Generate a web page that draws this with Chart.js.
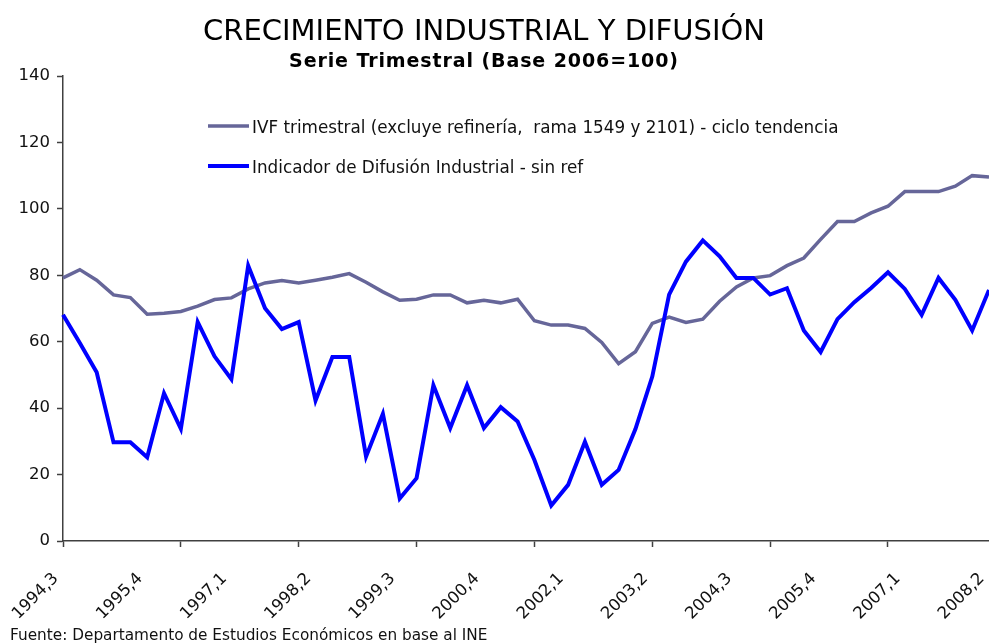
<!DOCTYPE html>
<html>
<head>
<meta charset="utf-8">
<script src="https://cdn.jsdelivr.net/npm/chart.js@4.4.1/dist/chart.umd.min.js"></script>
<style>
  html, body { margin: 0; padding: 0; background: #fff; }
  #wrap { position: relative; width: 989px; height: 644px; overflow: hidden; }
  #chart { position: absolute; left: 0; top: 0; }
  .txt { position: absolute; font-family: "DejaVu Sans", sans-serif; color: #000; white-space: pre; line-height: 1; }
  #title { left: 0; width: 968px; top: 15.5px; text-align: center; font-size: 29px; }
  #subtitle { left: 0; width: 968px; top: 51px; text-align: center; font-size: 19px; font-weight: bold; letter-spacing: 0.9px; }
  #footer { left: 10px; top: 628px; font-size: 15.3px; color: #111; }
</style>
</head>
<body>
<div id="wrap">
  <canvas id="chart" width="989" height="644"></canvas>
  <div class="txt" id="title">CRECIMIENTO INDUSTRIAL Y DIFUSIÓN</div>
  <div class="txt" id="subtitle">Serie Trimestral (Base 2006=100)</div>
  <div class="txt" id="footer">Fuente: Departamento de Estudios Económicos en base al INE</div>
</div>
<script>
// Quarters (year,quarter) 1994,3 ... 2008,2
const quarters = [
  "1994,3","1994,4",
  "1995,1","1995,2","1995,3","1995,4",
  "1996,1","1996,2","1996,3","1996,4",
  "1997,1","1997,2","1997,3","1997,4",
  "1998,1","1998,2","1998,3","1998,4",
  "1999,1","1999,2","1999,3","1999,4",
  "2000,1","2000,2","2000,3","2000,4",
  "2001,1","2001,2","2001,3","2001,4",
  "2002,1","2002,2","2002,3","2002,4",
  "2003,1","2003,2","2003,3","2003,4",
  "2004,1","2004,2","2004,3","2004,4",
  "2005,1","2005,2","2005,3","2005,4",
  "2006,1","2006,2","2006,3","2006,4",
  "2007,1","2007,2","2007,3","2007,4",
  "2008,1","2008,2"
];

// IVF trimestral (ciclo tendencia)
const ivfTrend = [
  79.2, 81.7, 78.5, 74.1, 73.3, 68.3, 68.6, 69.1, 70.7, 72.7,
  73.2, 75.9, 77.7, 78.4, 77.7, 78.5, 79.4, 80.5, 77.9, 75.0,
  72.5, 72.8, 74.1, 74.1, 71.7, 72.5, 71.7, 72.8, 66.3, 65.0,
  65.0, 64.0, 59.8, 53.4, 57.0, 65.5, 67.4, 65.8, 66.8, 72.2,
  76.5, 79.2, 79.9, 82.9, 85.2, 90.8, 96.2, 96.2, 98.8, 100.8,
  105.2, 105.2, 105.2, 106.8, 110.0, 109.6
];

// Indicador de Difusión Industrial - sin ref
const diffusion = [
  68.1, 59.6, 50.8, 29.7, 29.7, 25.2, 44.5, 33.8, 65.9, 55.6,
  48.7, 82.9, 70.1, 63.8, 65.9, 42.3, 55.4, 55.4, 25.4, 38.3,
  12.8, 18.9, 46.9, 34.0, 46.9, 34.0, 40.3, 36.0, 24.4, 10.7,
  16.9, 29.9, 16.9, 21.4, 33.7, 49.5, 74.2, 84.1, 90.5, 85.7,
  79.2, 79.2, 74.2, 76.1, 63.4, 56.9, 66.8, 71.9, 76.2, 80.9,
  75.9, 68.1, 79.2, 72.6, 63.4, 75.6
];

const seriesLabels = [
  "IVF trimestral (excluye refinería,  rama 1549 y 2101) - ciclo tendencia",
  "Indicador de Difusión Industrial - sin ref"
];
const yTicks = [0, 20, 40, 60, 80, 100, 120, 140];
const labelEvery = 5;   // x labels every 5 quarters
const tickEvery = 7;    // x tick marks every 7 quarters

const AXIS = '#404040';

const insideLegend = {
  id: 'insideLegend',
  afterDatasetsDraw(chart) {
    const ctx = chart.ctx;
    const rows = [126, 166];
    ctx.save();
    chart.data.datasets.forEach((ds, i) => {
      const y = rows[i];
      ctx.strokeStyle = ds.borderColor;
      ctx.lineWidth = ds.borderWidth;
      ctx.beginPath();
      ctx.moveTo(208, y);
      ctx.lineTo(249, y);
      ctx.stroke();
      ctx.fillStyle = '#111';
      ctx.font = '16.8px "DejaVu Sans"';
      ctx.textBaseline = 'alphabetic';
      ctx.textAlign = 'left';
      ctx.fillText(ds.label, 252, y + 7);
    });
    ctx.restore();
  }
};

new Chart(document.getElementById('chart'), {
  type: 'line',
  data: {
    labels: quarters,
    datasets: [
      {
        label: seriesLabels[0],
        data: ivfTrend,
        borderColor: '#666699',
        borderWidth: 3.5,
        pointRadius: 0,
        tension: 0,
        order: 1
      },
      {
        label: seriesLabels[1],
        data: diffusion,
        borderColor: '#0000FF',
        borderWidth: 4,
        pointRadius: 0,
        tension: 0,
        order: 0
      }
    ]
  },
  options: {
    responsive: false,
    animation: false,
    devicePixelRatio: 1,
    layout: { padding: { top: 76, left: 0, right: 0, bottom: 0 } },
    plugins: {
      legend: { display: false },
      title: { display: false },
      tooltip: { enabled: false }
    },
    scales: {
      x: {
        type: 'category',
        offset: false,
        border: { display: true, color: AXIS, width: 1.5 },
        grid: {
          display: true,
          drawOnChartArea: false,
          drawTicks: true,
          tickLength: 6,
          tickWidth: 1.5,
          tickColor: (c) => (c.index % tickEvery === 0 ? AXIS : 'rgba(0,0,0,0)')
        },
        ticks: {
          autoSkip: false,
          minRotation: 45,
          maxRotation: 45,
          padding: 22,
          labelOffset: -7,
          color: '#111',
          font: { family: 'DejaVu Sans', size: 16.5 },
          callback: function (v, i) { return i % labelEvery === 0 ? quarters[i] : ''; }
        },
        afterFit: (s) => { s.height = 103; s.paddingLeft = 0; s.paddingRight = 0; }
      },
      y: {
        min: 0,
        max: 140,
        border: { display: true, color: AXIS, width: 1.5 },
        grid: {
          display: true,
          drawOnChartArea: false,
          drawTicks: true,
          tickLength: 6,
          tickWidth: 1.5,
          tickColor: AXIS
        },
        afterBuildTicks: (s) => { s.ticks = yTicks.map(v => ({ value: v })); },
        ticks: {
          padding: 7,
          color: '#111',
          font: { family: 'DejaVu Sans', size: 16.5 }
        },
        afterFit: (s) => { s.width = 63; s.paddingTop = 0; s.paddingBottom = 0; }
      }
    }
  },
  plugins: [insideLegend]
});
</script>
</body>
</html>
